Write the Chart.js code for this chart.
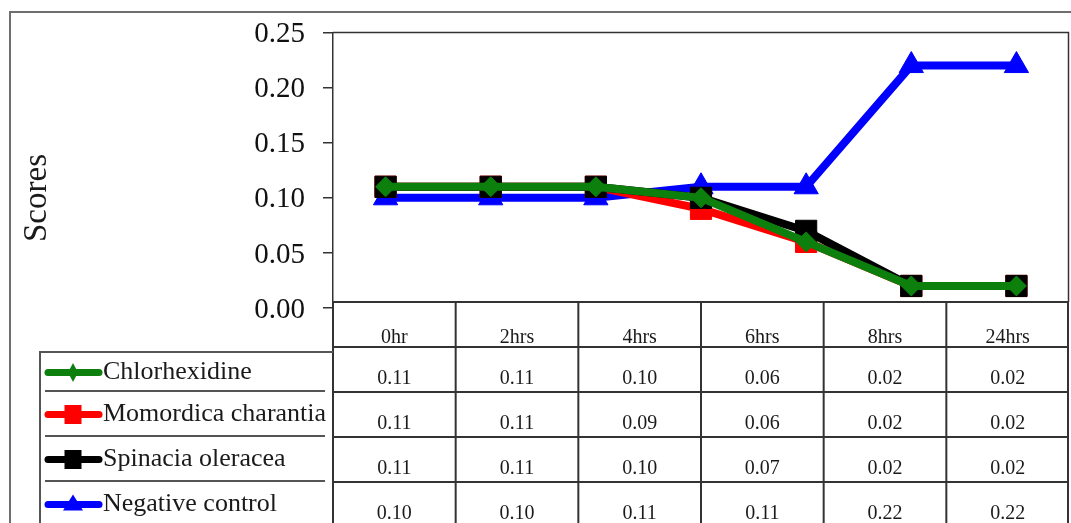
<!DOCTYPE html>
<html>
<head>
<meta charset="utf-8">
<script src="https://cdn.jsdelivr.net/npm/chart.js@4/dist/chart.umd.min.js"></script>
<style>
  html, body { margin: 0; padding: 0; background: #ffffff; }
  #wrap { width: 1071px; height: 523px; }
</style>
</head>
<body>
<div id="wrap"><canvas id="chart" width="1071" height="523"></canvas></div>
<script>
// Time points shown in the data table under the plot
const timepoints = ['0hr', '2hrs', '4hrs', '6hrs', '8hrs', '24hrs'];
// Successive readings plotted as points (the first one precedes the tabulated time points)
const readings = ['R1', 'R2', 'R3', 'R4', 'R5', 'R6', 'R7'];

const seriesNames = ['Chlorhexidine', 'Momordica charantia', 'Spinacia oleracea', 'Negative control'];
const chlorhexidine   = [0.11, 0.11, 0.11, 0.10, 0.06, 0.02, 0.02];
const momordica       = [0.11, 0.11, 0.11, 0.09, 0.06, 0.02, 0.02];
const spinacia        = [0.11, 0.11, 0.11, 0.10, 0.07, 0.02, 0.02];
const negativeControl = [0.10, 0.10, 0.10, 0.11, 0.11, 0.22, 0.22];

const yMin = 0, yMax = 0.25, yStep = 0.05;
const yTitle = 'Scores';

const seriesColors = ['#0d7f0d', '#ff0000', '#000000', '#0000ff'];
const seriesStyles = ['rectRot', 'rect', 'rect', 'triangle'];
const seriesRadii  = [10, 15, 15, 14];
const seriesData   = [chlorhexidine, momordica, spinacia, negativeControl];
// drawing order: green on top, blue at the bottom
const seriesOrder  = [0, 2, 1, 3];

const SERIF = "'Liberation Serif', 'Times New Roman', serif";
const LINE = '#333333';

// small marker glyphs for the legend keys
function legendMarker(ctx, style, x, y, color) {
  ctx.save();
  ctx.fillStyle = color;
  ctx.beginPath();
  if (style === 'rect') {
    ctx.rect(x - 8.5, y - 9.5, 17, 19);
  } else if (style === 'rectRot') {
    ctx.moveTo(x, y - 9.5);
    ctx.lineTo(x + 5, y);
    ctx.lineTo(x, y + 9.5);
    ctx.lineTo(x - 5, y);
    ctx.closePath();
  } else {
    ctx.moveTo(x, y - 10);
    ctx.lineTo(x + 10, y + 6);
    ctx.lineTo(x - 10, y + 6);
    ctx.closePath();
  }
  ctx.fill();
  ctx.restore();
}

const tablePlugin = {
  id: 'dataTable',
  beforeDraw(chart) {
    const ctx = chart.ctx;
    ctx.save();
    ctx.fillStyle = '#ffffff';
    ctx.fillRect(0, 0, chart.width, chart.height);
    // outer chart frame
    ctx.strokeStyle = '#6e6e6e';
    ctx.lineWidth = 2;
    ctx.beginPath();
    ctx.moveTo(10, chart.height + 2);
    ctx.lineTo(10, 12);
    ctx.lineTo(chart.width + 2, 12);
    ctx.stroke();
    ctx.restore();
  },
  afterDraw(chart) {
    const ctx = chart.ctx;
    const xs = chart.scales.x;
    const ca = chart.chartArea;
    const left = ca.left, right = ca.right;
    const tableTop = 302;
    const rowH = 45;
    const colW = (right - left) / timepoints.length;

    ctx.save();
    ctx.strokeStyle = LINE;
    ctx.lineWidth = 1.5;
    // plot frame: top and right edges
    ctx.beginPath();
    ctx.moveTo(left, ca.top);
    ctx.lineTo(right - 0.5, ca.top);
    ctx.lineTo(right - 0.5, tableTop);
    ctx.stroke();

    // table grid
    ctx.lineWidth = 2;
    ctx.beginPath();
    for (let r = 0; r <= 4; r++) {
      const y = tableTop + r * rowH;
      ctx.moveTo(left, y);
      ctx.lineTo(right, y);
    }
    for (let i = 0; i <= timepoints.length; i++) {
      const cx = i < timepoints.length ? xs.getPixelForValue(i) - colW / 2 : xs.getPixelForValue(i - 1) + colW / 2;
      const x = Math.min(cx, right - 1);
      ctx.moveTo(x, tableTop);
      ctx.lineTo(x, chart.height + 2);
    }
    ctx.stroke();

    // header and values
    ctx.fillStyle = '#1a1a1a';
    ctx.textAlign = 'center';
    ctx.textBaseline = 'alphabetic';
    ctx.font = '20px ' + SERIF;
    timepoints.forEach((t, i) => {
      const cx = xs.getPixelForValue(i);
      ctx.fillText(t, cx, tableTop + 41);
      seriesData.forEach((arr, s) => {
        const v = arr[i + 1];
        ctx.fillText(v.toFixed(2), cx, tableTop + (s + 1) * rowH + 37);
      });
    });

    // legend block
    const lgTop = 352;
    const lgBounds = [352, 391, 436, 481, 526];
    ctx.strokeStyle = '#555555';
    ctx.lineWidth = 2;
    ctx.beginPath();
    ctx.moveTo(40, chart.height + 2);
    ctx.lineTo(40, lgTop);
    ctx.lineTo(left, lgTop);
    for (let k = 1; k < 4; k++) {
      ctx.moveTo(45, lgBounds[k]);
      ctx.lineTo(325, lgBounds[k]);
    }
    ctx.stroke();

    ctx.textAlign = 'left';
    ctx.textBaseline = 'middle';
    ctx.font = '26px ' + SERIF;
    seriesNames.forEach((name, s) => {
      const cy = (lgBounds[s] + lgBounds[s + 1]) / 2 + 1;
      ctx.strokeStyle = seriesColors[s];
      ctx.lineWidth = 7;
      ctx.lineCap = 'round';
      ctx.beginPath();
      ctx.moveTo(48, cy);
      ctx.lineTo(99, cy);
      ctx.stroke();
      legendMarker(ctx, seriesStyles[s], 73, cy, seriesColors[s]);
      ctx.fillStyle = '#1a1a1a';
      ctx.fillText(name, 103, cy);
    });

    // y axis title
    ctx.translate(37, 198);
    ctx.rotate(-Math.PI / 2);
    ctx.textAlign = 'center';
    ctx.textBaseline = 'middle';
    ctx.font = '33px ' + SERIF;
    ctx.fillText(yTitle, 0, 0);
    ctx.restore();
  }
};

const datasets = seriesNames.map((name, s) => ({
  label: name,
  data: seriesData[s],
  xAxisID: 'xp',
  yAxisID: 'y',
  borderColor: seriesColors[s],
  backgroundColor: seriesColors[s],
  borderWidth: 8,
  pointStyle: seriesStyles[s],
  pointRadius: seriesRadii[s],
  pointBorderWidth: 1,
  pointBorderColor: seriesColors[s],
  pointBackgroundColor: seriesColors[s],
  tension: 0,
  order: seriesOrder[s]
}));

new Chart(document.getElementById('chart'), {
  type: 'line',
  data: { labels: timepoints, datasets },
  options: {
    responsive: false,
    animation: false,
    layout: { autoPadding: false, padding: { top: 31, right: 2, bottom: 215, left: 0 } },
    plugins: { legend: { display: false }, tooltip: { enabled: false } },
    scales: {
      x: {
        type: 'category',
        labels: timepoints,
        offset: true,
        display: false
      },
      xp: {
        type: 'category',
        labels: readings,
        offset: true,
        display: false
      },
      y: {
        min: yMin,
        max: yMax,
        afterFit(scale) { scale.width = 333; },
        ticks: {
          stepSize: yStep,
          padding: 18,
          labelOffset: 2,
          color: '#111111',
          font: { family: SERIF, size: 29, lineHeight: 1 },
          callback: v => Number(v).toFixed(2)
        },
        grid: {
          display: true,
          drawOnChartArea: false,
          drawTicks: true,
          tickLength: 10,
          color: LINE,
          lineWidth: 1.5
        },
        border: { display: true, color: LINE, width: 1.5 }
      }
    }
  },
  plugins: [tablePlugin]
});
</script>
</body>
</html>
